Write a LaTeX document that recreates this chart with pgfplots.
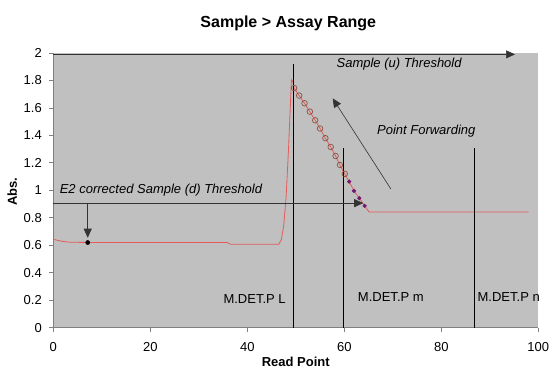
\documentclass[border=0pt]{standalone}
\usepackage{pgfplots}
\pgfplotsset{compat=1.18}
\usepackage{fontspec}
\setmainfont{Liberation Sans}
\usetikzlibrary{arrows.meta}
\definecolor{bggray}{RGB}{192,192,192}
\definecolor{axgray}{RGB}{128,128,128}
\definecolor{linered}{RGB}{226,92,92}
\definecolor{circbrown}{RGB}{140,82,62}
\definecolor{dotpurple}{RGB}{112,24,112}
\begin{document}
\begin{tikzpicture}[x=1pt,y=1pt]
\useasboundingbox (-53.3pt,-48.3pt) rectangle (504.7pt,327.7pt);
\begin{axis}[
  at={(0pt,0pt)}, anchor=origin,
  scale only axis, width=485pt, height=274.7pt,
  xmin=0, xmax=100, ymin=0, ymax=2,
  xtick={0,20,40,60,80,100},
  ytick={0,0.2,0.4,0.6,0.8,1,1.2,1.4,1.6,1.8,2},
  axis x line*=bottom, axis y line*=left,
  axis line style={axgray, line width=1pt},
  tick style={axgray, line width=0.8pt},
  tick align=outside, major tick length=4pt,
  axis background/.style={fill=bggray},
  /pgf/number format/assume math mode=true,
  /pgf/number format/fixed,
  ticklabel style={font=\fontsize{13}{15}\selectfont},
  yticklabel style={xshift=-4pt},
  xticklabel style={yshift=-7pt},
  clip=false,
]
% main absorbance trace
\addplot[linered, line width=0.8pt] coordinates {
 (0,0.644) (1,0.635) (2,0.628) (3.45,0.622) (10,0.62) (20,0.62) (30,0.62) (35.9,0.62)
 (36.5,0.608) (42,0.608) (46.5,0.608) (47,0.64) (47.5,0.74) (48,0.95) (48.5,1.3)
 (49.1,1.805) (49.4,1.79) (49.65,1.745) (50.7,1.69) (51.8,1.634) (52.9,1.573)
 (54.0,1.51) (55.0,1.45) (56.1,1.38) (57.2,1.316) (58.2,1.25) (59.1,1.185)
 (60.1,1.12) (61.0,1.064) (62.0,0.996) (63.1,0.943) (64.2,0.887) (65.1,0.843)
 (70,0.843) (80,0.842) (90,0.842) (98,0.842)
};
% forwarded points (circles)
\addplot[only marks, mark=o, mark size=2.8pt, mark options={circbrown, line width=0.7pt}] coordinates {
 (49.65,1.745) (50.7,1.69) (51.8,1.634) (52.9,1.573) (54.0,1.51) (55.0,1.45)
 (56.1,1.38) (57.2,1.316) (58.2,1.25) (59.1,1.185) (60.1,1.12)
};
% purple points
\addplot[only marks, mark=*, mark size=1.9pt, mark options={dotpurple, fill=dotpurple}] coordinates {
 (61.0,1.064) (62.0,0.996) (63.1,0.943) (64.2,0.887)
};
% black point
\addplot[only marks, mark=*, mark size=2.1pt, black] coordinates {(7.1,0.62)};
% vertical marker lines
\addplot[black, line width=0.5pt] coordinates {(49.4,0) (49.4,1.92)};
\addplot[black, line width=0.5pt] coordinates {(59.8,0) (59.8,1.31)};
\addplot[black, line width=0.5pt] coordinates {(86.8,0) (86.8,1.31)};
% threshold arrows
\draw[black!80, line width=0.6pt, -{Triangle[length=9pt,width=8pt]}] (axis cs:0,1.99) -- (axis cs:95.2,1.99);
\draw[black!80, line width=0.6pt, -{Triangle[length=9pt,width=8pt]}] (axis cs:0,0.907) -- (axis cs:63.9,0.907);
\draw[black!80, line width=0.6pt, -{Triangle[length=9pt,width=8pt]}] (axis cs:7.1,0.907) -- (axis cs:7.1,0.655);
\draw[black!80, line width=0.6pt, -{Triangle[length=9pt,width=8pt]}] (axis cs:69.6,1.01) -- (axis cs:57.6,1.67);
% annotations
\node[font=\fontsize{13}{15}\selectfont\itshape, anchor=center] at (axis cs:71.3,1.92) {Sample (u) Threshold};
\node[font=\fontsize{13}{15}\selectfont\itshape, anchor=center] at (axis cs:76.9,1.43) {Point Forwarding};
\node[font=\fontsize{13}{15}\selectfont\itshape, anchor=west, inner sep=0pt] at (axis cs:1.3,1.0) {E2 corrected Sample (d) Threshold};
\node[font=\fontsize{13}{15}\selectfont, anchor=center] at (axis cs:41.5,0.21) {M.DET.P L};
\node[font=\fontsize{13}{15}\selectfont, anchor=center] at (axis cs:69.6,0.22) {M.DET.P m};
\node[font=\fontsize{13}{15}\selectfont, anchor=center] at (axis cs:93.9,0.22) {M.DET.P n};
\end{axis}
\node[font=\fontsize{16}{18}\selectfont\bfseries, anchor=base] at (235pt,300.4pt) {Sample > Assay Range};
\node[font=\fontsize{13}{15}\selectfont\bfseries, anchor=base] at (242.5pt,-38.3pt) {Read Point};
\node[font=\fontsize{13}{15}\selectfont\bfseries, anchor=base, rotate=90] at (-36.3pt,136pt) {Abs.};
\end{tikzpicture}
\end{document}
